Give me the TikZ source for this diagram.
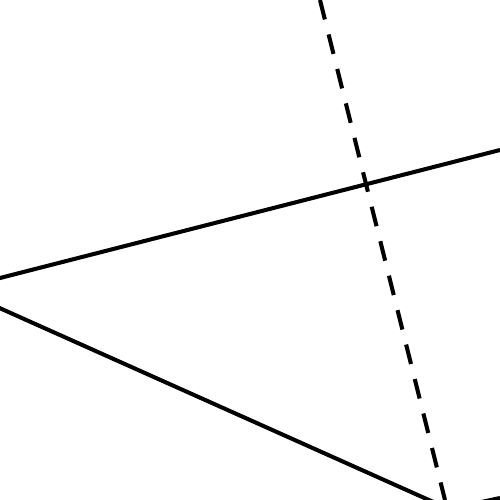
\documentclass[tikz,border=0pt]{standalone}
\begin{document}
\begin{tikzpicture}[x=0.01cm,y=-0.01cm,
  solidline/.style={line width=1.15pt,black},
  dashline/.style={line width=1.15pt,black,dash pattern=on 5.7pt off 4.4pt}]
\useasboundingbox (0,0) rectangle (500,500);
\clip (0,0) rectangle (500,500);
\coordinate (vtx) at (-43,289);
\coordinate (ua) at (500,150);
\coordinate (lb2) at (449,509);
\coordinate (br) at (500,498);
\coordinate (dt) at (320,0);
\coordinate (db) at (445,500);
\draw[solidline] (vtx) -- (ua);
\draw[solidline] (vtx) -- (lb2);
\draw[solidline] (lb2) -- (br);
\draw[dashline] (dt) -- (db);
\end{tikzpicture}
\end{document}
